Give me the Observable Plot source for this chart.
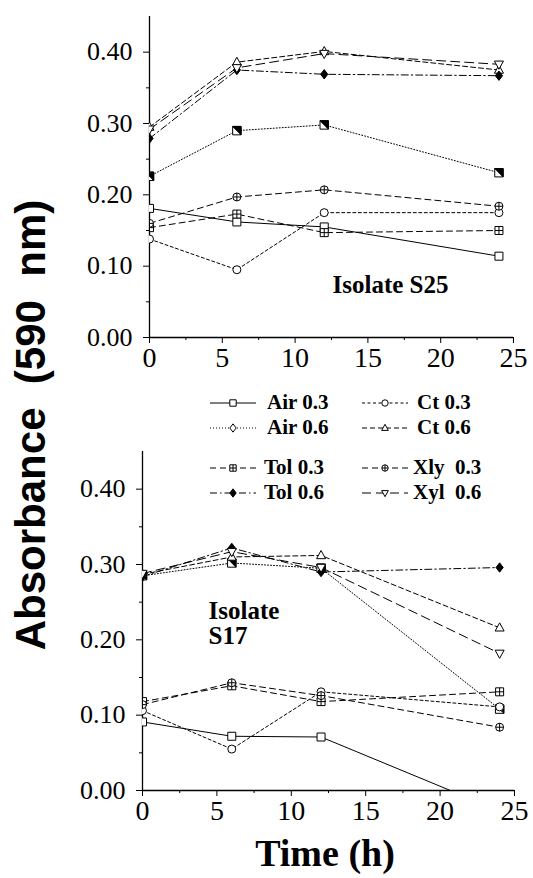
<!DOCTYPE html>
<html>
<head>
<meta charset="utf-8">
<script src="https://cdn.jsdelivr.net/npm/d3@7"></script>
<script src="https://cdn.jsdelivr.net/npm/@observablehq/plot@0.6"></script>
<style>
  html, body { margin: 0; padding: 0; background: #fff; }
  #root { position: relative; width: 533px; height: 878px; background: #fff; overflow: hidden; }
  .abs { position: absolute; }
  .leg { position: absolute; font-family: "Liberation Serif", serif; font-weight: bold; font-size: 21px; white-space: pre; line-height: 1; color: #000; }
</style>
</head>
<body>
<div id="root"></div>
<script>
// ---------- data ----------
const times = [0, 6, 12, 24];
const seriesNames = ["Air 0.3", "Air 0.6", "Ct 0.3", "Ct 0.6", "Tol 0.3", "Tol 0.6", "Xly 0.3", "Xyl 0.6"];
const legendLabels = ["Air 0.3", "Air 0.6", "Ct 0.3", "Ct 0.6", "Tol 0.3", "Tol 0.6", "Xly  0.3", "Xyl  0.6"];
const panelLabels = ["Isolate S25", "Isolate S17"];

// Isolate S25 (top panel)
const air03_S25 = [0.181, 0.162, 0.155, 0.114];
const air06_S25 = [0.226, 0.290, 0.298, 0.231];
const ct03_S25  = [0.138, 0.095, 0.175, 0.175];
const ct06_S25  = [0.295, 0.386, 0.401, 0.375];
const tol03_S25 = [0.154, 0.173, 0.147, 0.150];
const tol06_S25 = [0.279, 0.375, 0.369, 0.367];
const xly03_S25 = [0.160, 0.197, 0.207, 0.184];
const xyl06_S25 = [0.292, 0.378, 0.398, 0.383];

// Isolate S17 (bottom panel)
const air03_S17 = [0.091, 0.072, 0.071, -0.027];
const air06_S17 = [0.285, 0.302, 0.295, 0.108];
const ct03_S17  = [0.106, 0.055, 0.131, 0.111];
const ct06_S17  = [0.287, 0.310, 0.312, 0.216];
const tol03_S17 = [0.118, 0.139, 0.118, 0.131];
const tol06_S17 = [0.284, 0.322, 0.290, 0.296];
const xly03_S17 = [0.114, 0.143, 0.126, 0.084];
const xyl06_S17 = [0.288, 0.317, 0.296, 0.182];

const xTicks = [0, 5, 10, 15, 20, 25];
const xMinor = [2.5, 7.5, 12.5, 17.5, 22.5];
const yTicks = [0, 0.1, 0.2, 0.3, 0.4];
const yMinor = [0.05, 0.15, 0.25, 0.35];

const panelS25 = [air03_S25, air06_S25, ct03_S25, ct06_S25, tol03_S25, tol06_S25, xly03_S25, xyl06_S25];
const panelS17 = [air03_S17, air06_S17, ct03_S17, ct06_S17, tol03_S17, tol06_S17, xly03_S17, xyl06_S17];

function rows(panel) {
  return panel.map((vals, i) => vals.map((v, j) => ({series: seriesNames[i], t: times[j], v})));
}

// ---------- symbols ----------
const sym = fn => ({draw(ctx, size) { fn(ctx, Math.sqrt(size / Math.PI)); }});
const drawSquare = (c, r) => { c.moveTo(-r, -r); c.lineTo(r, -r); c.lineTo(r, r); c.lineTo(-r, r); c.closePath(); };
const drawCircle = (c, r) => { c.moveTo(r, 0); c.arc(0, 0, r, 0, 2 * Math.PI); };
const drawDiamond = (c, r) => { c.moveTo(0, -r * 1.3); c.lineTo(r, 0); c.lineTo(0, r * 1.3); c.lineTo(-r, 0); c.closePath(); };
const drawTriUp = (c, r) => { c.moveTo(0, -r * 1.15); c.lineTo(r * 1.05, r * 0.75); c.lineTo(-r * 1.05, r * 0.75); c.closePath(); };
const drawTriDown = (c, r) => { c.moveTo(0, r * 1.15); c.lineTo(r * 1.05, -r * 0.75); c.lineTo(-r * 1.05, -r * 0.75); c.closePath(); };
const drawPlus = (c, r) => { c.moveTo(-r, 0); c.lineTo(r, 0); c.moveTo(0, -r); c.lineTo(0, r); };
const drawHalf = (c, r) => { c.moveTo(-r, -r); c.lineTo(r, -r); c.lineTo(r, r); c.closePath(); };

const W = "white", B = "black";
const markers = [
  [[drawSquare, W]],
  [[drawSquare, W], [drawHalf, B]],
  [[drawCircle, W]],
  [[drawTriUp, W]],
  [[drawSquare, W], [drawPlus, "none"]],
  [[drawDiamond, B]],
  [[drawCircle, W], [drawPlus, "none"]],
  [[drawTriDown, W]]
];
const legendMarkers = markers.slice();
legendMarkers[1] = [[drawDiamond, W]];

const dashes = [null, "1,2", "3,2.5", "5,3", "6,4", "7,3,1.5,3", "6,4", "9,5"];
const radius = [4, 4.2, 4, 4.3, 4, 3.6, 4, 4.3];

function panel(data, opts) {
  const r = rows(data);
  const marks = [
    Plot.axisX({ticks: xTicks, tickSize: 6, tickPadding: 4, fontSize: 28, tickFormat: d => String(d), label: null}),
    Plot.axisX({ticks: xMinor, tickSize: 3, text: null, label: null}),
    Plot.axisY({ticks: yTicks, tickSize: 6, tickPadding: 11, fontSize: 26, tickFormat: d3.format(".2f"), label: null}),
    Plot.axisY({ticks: yMinor, tickSize: 3, text: null, label: null}),
    Plot.ruleX([0], {stroke: B, strokeWidth: 1.3}),
    Plot.ruleY([0], {stroke: B, strokeWidth: 1.3})
  ];
  seriesNames.forEach((s, i) => {
    marks.push(Plot.line(r[i], {x: "t", y: "v", stroke: B, strokeWidth: 1, strokeDasharray: dashes[i], clip: true}));
  });
  seriesNames.forEach((s, i) => {
    markers[i].forEach(([fn, fill]) => {
      marks.push(Plot.dot(r[i], {x: "t", y: "v", r: radius[i], symbol: sym(fn), fill, stroke: B, strokeWidth: 1, clip: true}));
    });
  });
  marks.push(Plot.text([opts.label], {
    frameAnchor: opts.anchor, dx: opts.dx, dy: opts.dy, text: d => d,
    textAnchor: "start", lineAnchor: "middle", lineHeight: 1.0,
    fontFamily: "Liberation Serif", fontWeight: "bold", fontSize: 25, fill: B
  }));
  return Plot.plot({
    width: 533, height: opts.height,
    marginLeft: opts.ml, marginRight: opts.mr, marginTop: opts.mt, marginBottom: opts.mb,
    x: {domain: [0, 25]}, y: {domain: [0, 0.45]},
    style: {fontFamily: "Liberation Serif", fontSize: "26px", color: "black", background: "transparent", overflow: "visible"},
    marks
  });
}

const root = document.getElementById("root");

const chartS25 = panel(panelS25, {height: 375, ml: 149, mr: 20, mt: 16, mb: 38, label: panelLabels[0], anchor: "bottom-left", dx: 183, dy: -53});
const divS25 = document.createElement("div"); divS25.className = "abs"; divS25.style.left = "0px"; divS25.style.top = "0px";
divS25.appendChild(chartS25); root.appendChild(divS25);

const chartS17 = panel(panelS17, {height: 405, ml: 142, mr: 19, mt: 31, mb: 35, label: panelLabels[1].replace(" ", "\n"), anchor: "top-left", dx: 66, dy: 172});
const divS17 = document.createElement("div"); divS17.className = "abs"; divS17.style.left = "0px"; divS17.style.top = "420px";
divS17.appendChild(chartS17); root.appendChild(divS17);

// ---------- legend ----------
const legendPos = [
  {sx: 210, tx: 267, y: 403}, {sx: 210, tx: 267, y: 428},
  {sx: 362, tx: 417, y: 403}, {sx: 362, tx: 417, y: 428},
  {sx: 210, tx: 264, y: 468}, {sx: 210, tx: 264, y: 493},
  {sx: 362, tx: 413, y: 468}, {sx: 362, tx: 413, y: 493}
];
seriesNames.forEach((s, i) => {
  const p = legendPos[i];
  const svg = d3.create("svg").attr("width", 46).attr("height", 16)
    .style("position", "absolute").style("left", p.sx + "px").style("top", (p.y - 8) + "px").style("overflow", "visible");
  svg.append("line").attr("x1", 0).attr("x2", 46).attr("y1", 8).attr("y2", 8)
    .attr("stroke", B).attr("stroke-width", 1).attr("stroke-dasharray", dashes[i]);
  legendMarkers[i].forEach(([fn, fill]) => {
    const path = d3.path(); fn(path, 3.2);
    svg.append("path").attr("d", path.toString()).attr("transform", "translate(23,8)")
      .attr("fill", fill).attr("stroke", B).attr("stroke-width", 1);
  });
  root.appendChild(svg.node());
  const t = document.createElement("div"); t.className = "leg";
  t.textContent = legendLabels[i];
  t.style.left = p.tx + "px"; t.style.top = (p.y - 11) + "px";
  root.appendChild(t);
});

// ---------- axis titles ----------
const ylab = document.createElement("div");
ylab.textContent = "Absorbance  (590  nm)";
Object.assign(ylab.style, {position: "absolute", left: "31px", top: "425px", transform: "translate(-50%,-50%) rotate(-90deg)",
  fontFamily: "'Liberation Sans', Arial, sans-serif", fontWeight: "bold", fontSize: "42px", whiteSpace: "pre", lineHeight: "1"});
root.appendChild(ylab);

const xlab = document.createElement("div");
xlab.textContent = "Time (h)";
Object.assign(xlab.style, {position: "absolute", left: "325px", top: "853px", transform: "translate(-50%,-50%)",
  fontFamily: "'Liberation Serif', serif", fontWeight: "bold", fontSize: "38px", whiteSpace: "pre", lineHeight: "1"});
root.appendChild(xlab);
</script>
</body>
</html>
